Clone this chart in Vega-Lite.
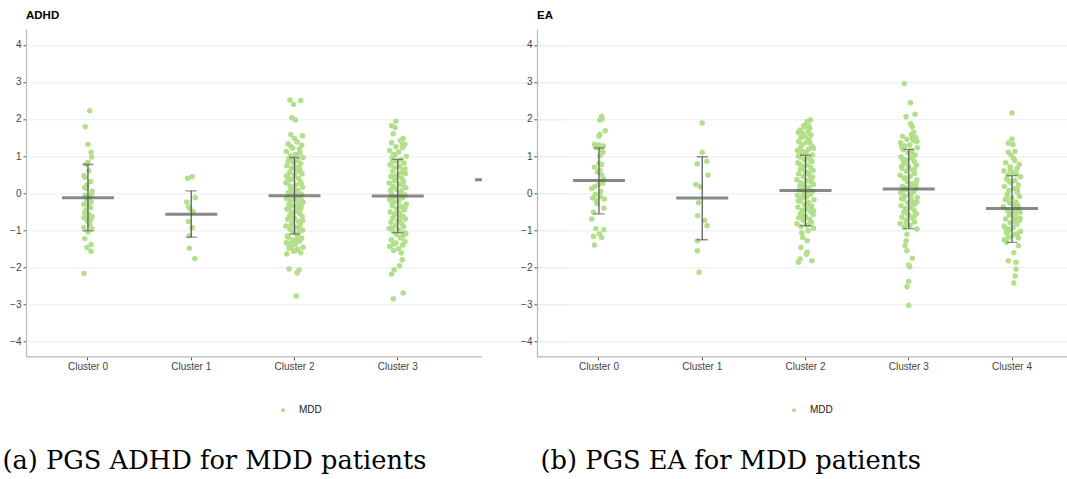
{
  "$schema": "https://vega.github.io/schema/vega-lite/v6.json",
  "background": "white",
  "padding": {"left": 2, "top": 9.3, "right": 0, "bottom": 12},
  "bounds": "flush",
  "spacing": 55,
  "config": {
    "font": "Liberation Sans",
    "view": {"stroke": null},
    "axis": {"labelFont": "Liberation Sans", "labelFontSize": 10, "labelColor": "#444444", "tickColor": "#555555", "tickSize": 3, "labelPadding": 2},
    "legend": {"labelFont": "Liberation Sans", "labelFontSize": 10, "labelColor": "#222222"}
  },
  "datasets": {
    "a": [
      {"c":0,"v":2.22,"j":0.2},{"c":0,"v":1.79,"j":-0.3},{"c":0,"v":1.32,"j":0},{"c":0,"v":1.10,"j":0.35},{"c":0,"v":0.97,"j":0.4},{"c":0,"v":0.83,"j":0},{"c":0,"v":0.78,"j":-0.2},{"c":0,"v":0.60,"j":0.1},{"c":0,"v":0.47,"j":-0.45},{"c":0,"v":0.42,"j":-0.3},{"c":0,"v":0.31,"j":0.3},{"c":0,"v":0.22,"j":-0.1},{"c":0,"v":0.15,"j":-0.35},{"c":0,"v":0.12,"j":-0.15},{"c":0,"v":0.05,"j":0.45},{"c":0,"v":-0.03,"j":0.4},{"c":0,"v":-0.06,"j":-0.3},{"c":0,"v":-0.12,"j":0.2},{"c":0,"v":-0.18,"j":-0.1},{"c":0,"v":-0.24,"j":0.35},{"c":0,"v":-0.30,"j":-0.45},{"c":0,"v":-0.33,"j":0.1},{"c":0,"v":-0.40,"j":0.3},{"c":0,"v":-0.45,"j":-0.2},{"c":0,"v":-0.52,"j":-0.35},{"c":0,"v":-0.58,"j":0.1},{"c":0,"v":-0.63,"j":0.45},{"c":0,"v":-0.66,"j":-0.45},{"c":0,"v":-0.68,"j":-0.2},{"c":0,"v":-0.73,"j":0.3},{"c":0,"v":-0.76,"j":-0.05},{"c":0,"v":-0.85,"j":0.2},{"c":0,"v":-0.93,"j":-0.45},{"c":0,"v":-0.96,"j":0.45},{"c":0,"v":-1.05,"j":0},{"c":0,"v":-1.23,"j":-0.35},{"c":0,"v":-1.39,"j":0.35},{"c":0,"v":-1.47,"j":-0.1},{"c":0,"v":-1.57,"j":0.35},{"c":0,"v":-2.17,"j":-0.45},
      {"c":1,"v":0.44,"j":0.1},{"c":1,"v":0.40,"j":-0.4},{"c":1,"v":-0.12,"j":0.45},{"c":1,"v":-0.24,"j":-0.5},{"c":1,"v":-0.37,"j":-0.3},{"c":1,"v":-0.43,"j":-0.1},{"c":1,"v":-0.50,"j":0.2},{"c":1,"v":-0.77,"j":-0.3},{"c":1,"v":-0.93,"j":0.1},{"c":1,"v":-1.15,"j":-0.2},{"c":1,"v":-1.49,"j":-0.2},{"c":1,"v":-1.77,"j":0.4},
      {"c":2,"v":2.51,"j":-0.5},{"c":2,"v":2.50,"j":0.7},{"c":2,"v":2.39,"j":-0.1},{"c":2,"v":2.03,"j":-0.3},{"c":2,"v":1.97,"j":0.1},{"c":2,"v":1.58,"j":-0.4},{"c":2,"v":1.55,"j":0.9},{"c":2,"v":1.47,"j":0.0},
      {"c":2,"v":1.38,"j":0.3},{"c":2,"v":1.33,"j":-0.7},{"c":2,"v":1.29,"j":0.8},{"c":2,"v":1.21,"j":-0.2},{"c":2,"v":1.19,"j":0.55},{"c":2,"v":1.12,"j":-0.9},{"c":2,"v":1.04,"j":0.1},{"c":2,"v":1.01,"j":-0.45},{"c":2,"v":0.96,"j":0.95},{"c":2,"v":0.93,"j":-0.6},{"c":2,"v":0.87,"j":0.35},{"c":2,"v":0.82,"j":-0.1},{"c":2,"v":0.80,"j":0.7},{"c":2,"v":0.74,"j":-0.85},{"c":2,"v":0.69,"j":0.2},{"c":2,"v":0.67,"j":-0.35},{"c":2,"v":0.61,"j":0.6},{"c":2,"v":0.55,"j":-0.55},{"c":2,"v":0.52,"j":0.85},{"c":2,"v":0.49,"j":0.0},{"c":2,"v":0.43,"j":-0.75},{"c":2,"v":0.40,"j":0.45},{"c":2,"v":0.37,"j":-0.25},{"c":2,"v":0.31,"j":0.65},{"c":2,"v":0.28,"j":-0.95},{"c":2,"v":0.22,"j":0.15},{"c":2,"v":0.19,"j":-0.5},{"c":2,"v":0.16,"j":0.9},{"c":2,"v":0.11,"j":-0.15},{"c":2,"v":0.07,"j":0.4},
      {"c":2,"v":0.05,"j":0.3},{"c":2,"v":0.01,"j":-0.7},{"c":2,"v":-0.03,"j":0.8},{"c":2,"v":-0.06,"j":-0.2},{"c":2,"v":-0.09,"j":0.55},{"c":2,"v":-0.14,"j":-0.9},{"c":2,"v":-0.17,"j":0.1},{"c":2,"v":-0.21,"j":-0.45},{"c":2,"v":-0.24,"j":0.95},{"c":2,"v":-0.29,"j":-0.6},{"c":2,"v":-0.33,"j":0.35},{"c":2,"v":-0.35,"j":-0.1},{"c":2,"v":-0.41,"j":0.7},{"c":2,"v":-0.44,"j":-0.85},{"c":2,"v":-0.47,"j":0.2},{"c":2,"v":-0.52,"j":-0.35},{"c":2,"v":-0.55,"j":0.6},{"c":2,"v":-0.61,"j":-0.55},{"c":2,"v":-0.63,"j":0.85},{"c":2,"v":-0.68,"j":0.0},{"c":2,"v":-0.71,"j":-0.75},{"c":2,"v":-0.77,"j":0.45},{"c":2,"v":-0.80,"j":-0.25},{"c":2,"v":-0.84,"j":0.65},{"c":2,"v":-0.89,"j":-0.95},{"c":2,"v":-0.92,"j":0.15},{"c":2,"v":-0.97,"j":-0.5},{"c":2,"v":-1.00,"j":0.9},{"c":2,"v":-1.05,"j":-0.15},{"c":2,"v":-1.09,"j":0.4},
      {"c":2,"v":-1.13,"j":0.3},{"c":2,"v":-1.19,"j":-0.7},{"c":2,"v":-1.22,"j":0.8},{"c":2,"v":-1.27,"j":-0.2},{"c":2,"v":-1.30,"j":0.55},{"c":2,"v":-1.34,"j":-0.9},{"c":2,"v":-1.38,"j":0.1},{"c":2,"v":-1.41,"j":-0.45},{"c":2,"v":-1.46,"j":0.95},{"c":2,"v":-1.49,"j":-0.6},{"c":2,"v":-1.52,"j":0.35},{"c":2,"v":-1.57,"j":-0.1},{"c":2,"v":-1.61,"j":0.7},{"c":2,"v":-1.64,"j":-0.85},
      {"c":2,"v":0.91,"j":-0.3},{"c":2,"v":0.58,"j":0.5},{"c":2,"v":0.34,"j":-0.65},{"c":2,"v":0.25,"j":0.75},{"c":2,"v":0.13,"j":-0.4},{"c":2,"v":-0.01,"j":0.2},{"c":2,"v":-0.12,"j":-0.8},{"c":2,"v":-0.26,"j":0.5},{"c":2,"v":-0.38,"j":-0.6},{"c":2,"v":-0.50,"j":0.3},{"c":2,"v":-0.58,"j":-0.2},{"c":2,"v":-0.74,"j":0.9},{"c":2,"v":-0.87,"j":-0.4},{"c":2,"v":-1.02,"j":0.6},{"c":2,"v":-1.16,"j":-0.8},{"c":2,"v":-1.25,"j":0.25},{"c":2,"v":-1.44,"j":-0.3},{"c":2,"v":0.71,"j":0.5},{"c":2,"v":0.46,"j":-0.9},{"c":2,"v":-0.19,"j":0.75},{"c":2,"v":1.26,"j":-0.4},{"c":2,"v":1.08,"j":0.6},{"c":2,"v":0.85,"j":-0.7},{"c":2,"v":0.64,"j":0.1},{"c":2,"v":-0.66,"j":-0.3},{"c":2,"v":-0.94,"j":0.5},{"c":2,"v":-1.36,"j":-0.6},{"c":2,"v":-1.55,"j":0.2},{"c":2,"v":0.03,"j":-0.4},{"c":2,"v":-0.31,"j":0.8},
      {"c":2,"v":-2.05,"j":-0.6},{"c":2,"v":-2.08,"j":0.5},{"c":2,"v":-2.16,"j":0.3},{"c":2,"v":-2.78,"j":0.2},
      {"c":3,"v":1.94,"j":-0.2},{"c":3,"v":1.82,"j":-0.7},{"c":3,"v":1.77,"j":-0.3},{"c":3,"v":1.60,"j":-0.5},{"c":3,"v":1.47,"j":0.6},
      {"c":3,"v":1.42,"j":0.3},{"c":3,"v":1.36,"j":-0.7},{"c":3,"v":1.32,"j":0.8},{"c":3,"v":1.25,"j":-0.2},{"c":3,"v":1.22,"j":0.55},{"c":3,"v":1.15,"j":-0.9},{"c":3,"v":1.11,"j":0.1},{"c":3,"v":1.05,"j":-0.45},{"c":3,"v":0.99,"j":0.95},{"c":3,"v":0.95,"j":-0.6},{"c":3,"v":0.90,"j":0.35},{"c":3,"v":0.86,"j":-0.1},{"c":3,"v":0.81,"j":0.7},{"c":3,"v":0.76,"j":-0.85},{"c":3,"v":0.72,"j":0.2},{"c":3,"v":0.68,"j":-0.35},{"c":3,"v":0.62,"j":0.6},{"c":3,"v":0.59,"j":-0.55},{"c":3,"v":0.53,"j":0.85},{"c":3,"v":0.49,"j":0.0},{"c":3,"v":0.45,"j":-0.75},{"c":3,"v":0.40,"j":0.45},{"c":3,"v":0.36,"j":-0.25},{"c":3,"v":0.31,"j":0.65},{"c":3,"v":0.27,"j":-0.95},{"c":3,"v":0.24,"j":0.15},{"c":3,"v":0.18,"j":-0.5},{"c":3,"v":0.14,"j":0.9},{"c":3,"v":0.10,"j":-0.15},{"c":3,"v":0.06,"j":0.4},
      {"c":3,"v":0.02,"j":0.3},{"c":3,"v":-0.02,"j":-0.7},{"c":3,"v":-0.05,"j":0.8},{"c":3,"v":-0.10,"j":-0.2},{"c":3,"v":-0.13,"j":0.55},{"c":3,"v":-0.18,"j":-0.9},{"c":3,"v":-0.22,"j":0.1},{"c":3,"v":-0.25,"j":-0.45},{"c":3,"v":-0.30,"j":0.95},{"c":3,"v":-0.34,"j":-0.6},{"c":3,"v":-0.37,"j":0.35},{"c":3,"v":-0.42,"j":-0.1},{"c":3,"v":-0.46,"j":0.7},{"c":3,"v":-0.51,"j":-0.85},{"c":3,"v":-0.54,"j":0.2},{"c":3,"v":-0.58,"j":-0.35},{"c":3,"v":-0.63,"j":0.6},{"c":3,"v":-0.67,"j":-0.55},{"c":3,"v":-0.70,"j":0.85},{"c":3,"v":-0.75,"j":0.0},{"c":3,"v":-0.79,"j":-0.75},{"c":3,"v":-0.83,"j":0.45},{"c":3,"v":-0.88,"j":-0.25},{"c":3,"v":-0.91,"j":0.65},{"c":3,"v":-0.96,"j":-0.95},{"c":3,"v":-1.00,"j":0.15},{"c":3,"v":-1.04,"j":-0.5},{"c":3,"v":-1.09,"j":0.9},{"c":3,"v":-1.12,"j":-0.15},{"c":3,"v":-1.18,"j":0.4},
      {"c":3,"v":-1.21,"j":0.3},{"c":3,"v":-1.26,"j":-0.7},{"c":3,"v":-1.31,"j":0.8},{"c":3,"v":-1.35,"j":-0.2},{"c":3,"v":-1.40,"j":0.55},{"c":3,"v":-1.44,"j":-0.9},{"c":3,"v":-1.50,"j":0.1},{"c":3,"v":-1.55,"j":-0.45},{"c":3,"v":-1.62,"j":0.4},
      {"c":3,"v":1.30,"j":0.5},{"c":3,"v":1.02,"j":-0.3},{"c":3,"v":0.84,"j":-0.6},{"c":3,"v":0.65,"j":0.8},{"c":3,"v":0.44,"j":-0.4},{"c":3,"v":0.21,"j":0.6},{"c":3,"v":0.08,"j":-0.8},{"c":3,"v":-0.08,"j":0.3},{"c":3,"v":-0.28,"j":-0.6},{"c":3,"v":-0.40,"j":0.8},{"c":3,"v":-0.56,"j":-0.3},{"c":3,"v":-0.73,"j":0.2},{"c":3,"v":-0.94,"j":-0.7},{"c":3,"v":-1.15,"j":0.6},{"c":3,"v":-1.38,"j":-0.5},{"c":3,"v":0.55,"j":0.4},{"c":3,"v":-0.16,"j":-0.6},{"c":3,"v":-0.61,"j":0.3},{"c":3,"v":0.33,"j":-0.4},{"c":3,"v":-1.07,"j":0.7},
      {"c":3,"v":-1.80,"j":0.5},{"c":3,"v":-1.96,"j":0.2},{"c":3,"v":-2.08,"j":-0.4},{"c":3,"v":-2.19,"j":-0.7},{"c":3,"v":-2.70,"j":0.6},{"c":3,"v":-2.85,"j":-0.5}
    ],
    "as": [
      {"c":0,"m":-0.13,"lo":-1.02,"hi":0.77},{"c":1,"m":-0.57,"lo":-1.19,"hi":0.06},{"c":2,"m":-0.07,"lo":-1.11,"hi":0.96},{"c":3,"m":-0.08,"lo":-1.07,"hi":0.91},{"c":4,"m":0.36,"lo":null,"hi":null}
    ],
    "b": [
      {"c":0,"v":2.07,"j":0.3},{"c":0,"v":2.00,"j":0.35},{"c":0,"v":1.97,"j":0.1},{"c":0,"v":1.68,"j":0.7},{"c":0,"v":1.59,"j":0.1},{"c":0,"v":1.53,"j":0.0},{"c":0,"v":1.32,"j":-0.5},{"c":0,"v":1.30,"j":0.0},{"c":0,"v":1.27,"j":0.5},{"c":0,"v":1.25,"j":0.2},{"c":0,"v":1.18,"j":0.3},{"c":0,"v":1.10,"j":0.45},{"c":0,"v":1.00,"j":0.1},{"c":0,"v":0.81,"j":0.0},{"c":0,"v":0.77,"j":0.3},{"c":0,"v":0.70,"j":-0.5},{"c":0,"v":0.56,"j":-0.15},{"c":0,"v":0.49,"j":0.3},{"c":0,"v":0.38,"j":0.55},{"c":0,"v":0.31,"j":0.3},{"c":0,"v":0.27,"j":0.45},{"c":0,"v":0.17,"j":-0.5},{"c":0,"v":0.12,"j":-0.8},{"c":0,"v":0.05,"j":0.2},{"c":0,"v":-0.10,"j":0.15},{"c":0,"v":-0.16,"j":0.6},{"c":0,"v":-0.20,"j":-0.3},{"c":0,"v":-0.29,"j":-0.2},{"c":0,"v":-0.41,"j":0.55},{"c":0,"v":-0.52,"j":-0.6},{"c":0,"v":-0.70,"j":-0.8},{"c":0,"v":-0.96,"j":-0.35},{"c":0,"v":-0.99,"j":0.55},{"c":0,"v":-1.10,"j":0.05},{"c":0,"v":-1.17,"j":-0.6},{"c":0,"v":-1.20,"j":0.3},{"c":0,"v":-1.40,"j":-0.5},{"c":0,"v":1.22,"j":-0.3},{"c":0,"v":0.62,"j":0.1},{"c":0,"v":-0.03,"j":-0.4},{"c":0,"v":-0.13,"j":-0.7},{"c":0,"v":0.23,"j":0.0},
      {"c":1,"v":1.89,"j":0.0},{"c":1,"v":1.10,"j":0.0},{"c":1,"v":0.86,"j":0.5},{"c":1,"v":0.79,"j":-0.55},{"c":1,"v":0.49,"j":0.65},{"c":1,"v":0.23,"j":-0.7},{"c":1,"v":0.17,"j":-0.25},{"c":1,"v":-0.26,"j":-0.4},{"c":1,"v":-0.61,"j":-0.5},{"c":1,"v":-0.74,"j":0.25},{"c":1,"v":-0.88,"j":0.55},{"c":1,"v":-1.29,"j":-0.55},{"c":1,"v":-1.56,"j":-0.55},{"c":1,"v":-2.14,"j":-0.35},
      {"c":2,"v":1.97,"j":0.55},{"c":2,"v":1.93,"j":0.2},{"c":2,"v":1.87,"j":0.1},{"c":2,"v":1.82,"j":-0.2},{"c":2,"v":1.78,"j":-0.1},{"c":2,"v":1.74,"j":0.45},{"c":2,"v":1.70,"j":-0.6},{"c":2,"v":1.66,"j":0.3},{"c":2,"v":1.61,"j":-0.3},{"c":2,"v":1.57,"j":0.6},{"c":2,"v":1.52,"j":0.0},{"c":2,"v":1.49,"j":-0.5},{"c":2,"v":1.44,"j":0.4},{"c":2,"v":1.40,"j":-0.75},{"c":2,"v":1.37,"j":0.15},{"c":2,"v":1.31,"j":-0.35},{"c":2,"v":1.27,"j":0.7},{"c":2,"v":1.24,"j":-0.55},{"c":2,"v":1.18,"j":0.35},{"c":2,"v":1.15,"j":-0.9},{"c":2,"v":1.10,"j":0.1},{"c":2,"v":1.06,"j":-0.45},{"c":2,"v":1.03,"j":0.8},{"c":2,"v":0.97,"j":-0.6},{"c":2,"v":0.94,"j":0.35},{"c":2,"v":0.90,"j":-0.1},{"c":2,"v":0.85,"j":0.7},{"c":2,"v":0.82,"j":-0.85},{"c":2,"v":0.76,"j":0.2},{"c":2,"v":0.73,"j":-0.35},{"c":2,"v":0.69,"j":0.6},{"c":2,"v":0.64,"j":-0.55},{"c":2,"v":0.61,"j":0.85},{"c":2,"v":0.57,"j":0.0},{"c":2,"v":0.52,"j":-0.75},{"c":2,"v":0.49,"j":0.45},{"c":2,"v":0.45,"j":-0.25},{"c":2,"v":0.40,"j":0.65},{"c":2,"v":0.36,"j":-0.95},{"c":2,"v":0.33,"j":0.15},{"c":2,"v":0.28,"j":-0.5},{"c":2,"v":0.24,"j":0.9},{"c":2,"v":0.21,"j":-0.15},{"c":2,"v":0.16,"j":0.4},
      {"c":2,"v":0.13,"j":0.3},{"c":2,"v":0.09,"j":-0.7},{"c":2,"v":0.05,"j":0.8},{"c":2,"v":0.02,"j":-0.2},{"c":2,"v":-0.03,"j":0.55},{"c":2,"v":-0.06,"j":-0.9},{"c":2,"v":-0.11,"j":0.1},{"c":2,"v":-0.14,"j":-0.45},{"c":2,"v":-0.18,"j":0.95},{"c":2,"v":-0.23,"j":-0.6},{"c":2,"v":-0.26,"j":0.35},{"c":2,"v":-0.31,"j":-0.1},{"c":2,"v":-0.35,"j":0.7},{"c":2,"v":-0.38,"j":-0.85},{"c":2,"v":-0.43,"j":0.2},{"c":2,"v":-0.46,"j":-0.35},{"c":2,"v":-0.51,"j":0.6},{"c":2,"v":-0.55,"j":-0.55},{"c":2,"v":-0.58,"j":0.85},{"c":2,"v":-0.63,"j":0.0},{"c":2,"v":-0.67,"j":-0.75},{"c":2,"v":-0.71,"j":0.45},{"c":2,"v":-0.74,"j":-0.25},{"c":2,"v":-0.79,"j":0.65},{"c":2,"v":-0.83,"j":-0.95},{"c":2,"v":-0.87,"j":0.15},{"c":2,"v":-0.91,"j":-0.5},{"c":2,"v":-0.95,"j":0.9},
      {"c":2,"v":1.80,"j":0.4},{"c":2,"v":1.63,"j":-0.8},{"c":2,"v":1.35,"j":0.5},{"c":2,"v":1.12,"j":-0.3},{"c":2,"v":0.88,"j":0.6},{"c":2,"v":0.67,"j":-0.4},{"c":2,"v":0.43,"j":0.8},{"c":2,"v":0.19,"j":-0.6},{"c":2,"v":-0.01,"j":0.3},{"c":2,"v":-0.21,"j":-0.8},{"c":2,"v":-0.40,"j":0.5},{"c":2,"v":-0.60,"j":-0.3},{"c":2,"v":-0.85,"j":0.6},{"c":2,"v":1.55,"j":-0.2},{"c":2,"v":1.21,"j":0.9},{"c":2,"v":0.79,"j":-0.7},{"c":2,"v":0.31,"j":0.6},{"c":2,"v":-0.09,"j":-0.4},{"c":2,"v":-0.48,"j":0.9},{"c":2,"v":-0.69,"j":-0.2},{"c":2,"v":0.55,"j":0.3},{"c":2,"v":1.00,"j":-0.8},{"c":2,"v":-0.28,"j":0.2},{"c":2,"v":0.12,"j":-0.3},
      {"c":2,"v":-1.02,"j":0.3},{"c":2,"v":-1.08,"j":-0.4},{"c":2,"v":-1.20,"j":-0.3},{"c":2,"v":-1.29,"j":0.2},{"c":2,"v":-1.47,"j":-0.5},{"c":2,"v":-1.60,"j":0.2},{"c":2,"v":-1.65,"j":0.1},{"c":2,"v":-1.78,"j":-0.6},{"c":2,"v":-1.83,"j":0.7},{"c":2,"v":-1.87,"j":-0.8},
      {"c":3,"v":2.96,"j":-0.5},{"c":3,"v":2.44,"j":0.2},{"c":3,"v":2.13,"j":0.7},{"c":3,"v":2.06,"j":-0.3},{"c":3,"v":1.87,"j":0.2},{"c":3,"v":1.79,"j":0.4},{"c":3,"v":1.64,"j":0.55},
      {"c":3,"v":1.58,"j":0.3},{"c":3,"v":1.53,"j":-0.7},{"c":3,"v":1.50,"j":0.8},{"c":3,"v":1.45,"j":-0.2},{"c":3,"v":1.41,"j":0.55},{"c":3,"v":1.36,"j":-0.9},{"c":3,"v":1.30,"j":0.1},{"c":3,"v":1.27,"j":-0.45},{"c":3,"v":1.22,"j":0.95},{"c":3,"v":1.17,"j":-0.6},{"c":3,"v":1.12,"j":0.35},{"c":3,"v":1.09,"j":-0.1},{"c":3,"v":1.03,"j":0.7},{"c":3,"v":0.98,"j":-0.85},{"c":3,"v":0.95,"j":0.2},{"c":3,"v":0.89,"j":-0.35},{"c":3,"v":0.86,"j":0.6},{"c":3,"v":0.80,"j":-0.55},{"c":3,"v":0.76,"j":0.85},{"c":3,"v":0.71,"j":0.0},{"c":3,"v":0.67,"j":-0.75},{"c":3,"v":0.62,"j":0.45},{"c":3,"v":0.59,"j":-0.25},{"c":3,"v":0.53,"j":0.65},{"c":3,"v":0.48,"j":-0.95},{"c":3,"v":0.45,"j":0.15},{"c":3,"v":0.39,"j":-0.5},{"c":3,"v":0.36,"j":0.9},{"c":3,"v":0.31,"j":-0.15},{"c":3,"v":0.26,"j":0.4},
      {"c":3,"v":0.22,"j":0.3},{"c":3,"v":0.18,"j":-0.7},{"c":3,"v":0.13,"j":0.8},{"c":3,"v":0.10,"j":-0.2},{"c":3,"v":0.04,"j":0.55},{"c":3,"v":0.01,"j":-0.9},{"c":3,"v":-0.04,"j":0.1},{"c":3,"v":-0.08,"j":-0.45},{"c":3,"v":-0.12,"j":0.95},{"c":3,"v":-0.17,"j":-0.6},{"c":3,"v":-0.21,"j":0.35},{"c":3,"v":-0.26,"j":-0.1},{"c":3,"v":-0.29,"j":0.7},{"c":3,"v":-0.34,"j":-0.85},{"c":3,"v":-0.39,"j":0.2},{"c":3,"v":-0.42,"j":-0.35},{"c":3,"v":-0.47,"j":0.6},{"c":3,"v":-0.51,"j":-0.55},{"c":3,"v":-0.56,"j":0.85},{"c":3,"v":-0.60,"j":0.0},{"c":3,"v":-0.65,"j":-0.75},{"c":3,"v":-0.69,"j":0.45},{"c":3,"v":-0.73,"j":-0.25},{"c":3,"v":-0.78,"j":0.65},{"c":3,"v":-0.82,"j":-0.95},{"c":3,"v":-0.87,"j":0.15},{"c":3,"v":-0.92,"j":-0.5},{"c":3,"v":-0.97,"j":0.9},
      {"c":3,"v":1.48,"j":0.4},{"c":3,"v":1.25,"j":-0.8},{"c":3,"v":1.00,"j":0.5},{"c":3,"v":0.83,"j":-0.3},{"c":3,"v":0.64,"j":0.6},{"c":3,"v":0.41,"j":-0.4},{"c":3,"v":0.24,"j":0.8},{"c":3,"v":0.07,"j":-0.6},{"c":3,"v":-0.02,"j":0.3},{"c":3,"v":-0.15,"j":-0.8},{"c":3,"v":-0.32,"j":0.5},{"c":3,"v":-0.45,"j":-0.3},{"c":3,"v":-0.63,"j":0.6},{"c":3,"v":-0.85,"j":-0.2},{"c":3,"v":1.39,"j":0.9},{"c":3,"v":0.92,"j":-0.7},{"c":3,"v":0.56,"j":0.6},{"c":3,"v":0.15,"j":-0.4},{"c":3,"v":-0.24,"j":0.9},{"c":3,"v":-0.54,"j":-0.2},{"c":3,"v":1.14,"j":0.3},{"c":3,"v":0.72,"j":-0.8},{"c":3,"v":-0.09,"j":0.2},{"c":3,"v":-0.76,"j":-0.3},
      {"c":3,"v":-1.11,"j":-0.2},{"c":3,"v":-1.29,"j":-0.3},{"c":3,"v":-1.42,"j":-0.4},{"c":3,"v":-1.56,"j":-0.2},{"c":3,"v":-1.76,"j":0.4},{"c":3,"v":-1.94,"j":0.0},{"c":3,"v":-1.99,"j":0.1},{"c":3,"v":-2.39,"j":0.0},{"c":3,"v":-2.53,"j":-0.2},{"c":3,"v":-3.03,"j":0.0},
      {"c":4,"v":2.16,"j":0.0},{"c":4,"v":1.46,"j":0.0},{"c":4,"v":1.35,"j":-0.4},{"c":4,"v":1.31,"j":0.1},{"c":4,"v":1.12,"j":0.35},{"c":4,"v":1.10,"j":-0.4},{"c":4,"v":1.02,"j":-0.1},{"c":4,"v":0.93,"j":0.2},
      {"c":4,"v":0.88,"j":0.3},{"c":4,"v":0.82,"j":-0.7},{"c":4,"v":0.77,"j":0.8},{"c":4,"v":0.71,"j":-0.2},{"c":4,"v":0.66,"j":0.55},{"c":4,"v":0.60,"j":-0.9},{"c":4,"v":0.55,"j":0.1},{"c":4,"v":0.49,"j":-0.45},{"c":4,"v":0.44,"j":0.95},{"c":4,"v":0.38,"j":-0.6},{"c":4,"v":0.34,"j":0.35},{"c":4,"v":0.28,"j":-0.1},{"c":4,"v":0.22,"j":0.7},{"c":4,"v":0.18,"j":-0.85},{"c":4,"v":0.12,"j":0.2},{"c":4,"v":0.07,"j":-0.35},{"c":4,"v":0.01,"j":0.6},{"c":4,"v":-0.04,"j":-0.55},{"c":4,"v":-0.09,"j":0.85},{"c":4,"v":-0.13,"j":0.0},{"c":4,"v":-0.18,"j":-0.75},{"c":4,"v":-0.24,"j":0.45},{"c":4,"v":-0.27,"j":-0.25},{"c":4,"v":-0.33,"j":0.65},{"c":4,"v":-0.37,"j":-0.95},{"c":4,"v":-0.42,"j":0.15},{"c":4,"v":-0.47,"j":-0.5},{"c":4,"v":-0.52,"j":0.9},{"c":4,"v":-0.56,"j":-0.15},{"c":4,"v":-0.61,"j":0.4},{"c":4,"v":-0.65,"j":0.3},{"c":4,"v":-0.70,"j":-0.7},{"c":4,"v":-0.74,"j":0.8},{"c":4,"v":-0.80,"j":-0.2},{"c":4,"v":-0.84,"j":0.55},{"c":4,"v":-0.89,"j":-0.9},{"c":4,"v":-0.93,"j":0.1},{"c":4,"v":-0.98,"j":-0.45},{"c":4,"v":-1.03,"j":0.95},{"c":4,"v":-1.07,"j":-0.6},{"c":4,"v":-1.12,"j":0.35},{"c":4,"v":-1.17,"j":-0.1},{"c":4,"v":-1.21,"j":0.7},{"c":4,"v":-1.26,"j":-0.85},
      {"c":4,"v":0.52,"j":0.5},{"c":4,"v":0.31,"j":-0.3},{"c":4,"v":0.09,"j":0.6},{"c":4,"v":-0.16,"j":-0.6},{"c":4,"v":-0.44,"j":0.7},{"c":4,"v":-0.59,"j":-0.3},{"c":4,"v":-0.77,"j":0.3},{"c":4,"v":-0.95,"j":-0.7},{"c":4,"v":-1.10,"j":0.6},{"c":4,"v":-1.19,"j":-0.4},{"c":4,"v":0.63,"j":-0.2},{"c":4,"v":-0.30,"j":0.2},{"c":4,"v":-0.68,"j":0.9},{"c":4,"v":-1.00,"j":-0.2},{"c":4,"v":-0.50,"j":0.4},
      {"c":4,"v":-1.33,"j":-0.6},{"c":4,"v":-1.42,"j":0.7},{"c":4,"v":-1.61,"j":0.2},{"c":4,"v":-1.83,"j":-0.4},{"c":4,"v":-1.87,"j":0.45},{"c":4,"v":-2.05,"j":0.45},{"c":4,"v":-2.24,"j":0.35},{"c":4,"v":-2.43,"j":0.2}
    ],
    "bs": [
      {"c":0,"m":0.34,"lo":-0.56,"hi":1.22},{"c":1,"m":-0.135,"lo":-1.26,"hi":0.98},{"c":2,"m":0.07,"lo":-0.88,"hi":1.02},{"c":3,"m":0.11,"lo":-0.96,"hi":1.18},{"c":4,"m":-0.42,"lo":-1.33,"hi":0.47}
    ]
  },
  "resolve": {"scale": {"x": "independent", "y": "independent", "color": "independent", "xOffset": "independent"}, "legend": {"color": "independent"}},
  "hconcat": [
    {
      "width": 456,
      "height": 327.5,
      "title": {"text": "ADHD", "anchor": "start", "frame": "group", "fontSize": 11.5, "fontWeight": "bold", "color": "#000000", "baseline": "alphabetic", "offset": -1.2},
      "layer": [
        {
          "data": {"values": [{}]},
          "mark": {"type": "rule", "color": "#b8b8b8", "strokeWidth": 1.2},
          "encoding": {"y": {"datum": -4.42, "type": "quantitative", "scale": {"domain": [-4.42, 4.42], "nice": false, "zero": false}}}
        },
        {
          "data": {"name": "a"},
          "mark": {"type": "circle", "size": 30, "opacity": 1, "clip": true},
          "encoding": {
            "x": {"field": "c", "type": "ordinal",
              "scale": {"domain": [0, 1, 2, 3, 4], "range": [0, 537], "paddingInner": 0, "paddingOuter": 0.1},
              "axis": {"values": [0, 1, 2, 3], "labelExpr": "'Cluster ' + datum.value", "labelAngle": 0, "domain": false, "ticks": true, "grid": false,
                "title": "(a) PGS ADHD for MDD patients", "titleFont": "DejaVu Serif", "titleFontSize": 25.7, "titleFontWeight": "normal", "titleColor": "#000000",
                "titleAlign": "left", "titleAnchor": "start", "titleBaseline": "alphabetic", "titleX": -24, "titleY": 112}},
            "xOffset": {"field": "j", "type": "quantitative", "scale": {"domain": [-1, 1], "range": [42.6, 60.6]}},
            "y": {"field": "v", "type": "quantitative",
              "scale": {"domain": [-4.42, 4.42], "nice": false, "zero": false},
              "axis": {"values": [-4, -3, -2, -1, 0, 1, 2, 3, 4], "title": null, "grid": true, "gridColor": "#ebebeb", "gridWidth": 1, "domainColor": "#b8b8b8", "domainWidth": 1.2}},
            "color": {"datum": "MDD", "type": "nominal", "scale": {"range": ["#b2df8a"]},
              "legend": {"title": null, "orient": "none", "legendX": 252, "legendY": 376, "symbolType": "circle", "symbolSize": 16, "symbolStrokeWidth": 0, "labelOffset": 11, "padding": 0}}
          }
        },
        {
          "data": {"name": "as"},
          "transform": [{"filter": "isValid(datum.lo)"}],
          "mark": {"type": "rule", "color": "#5e5e5e", "strokeWidth": 1.3, "clip": true},
          "encoding": {
            "x": {"field": "c", "type": "ordinal"},
            "y": {"field": "lo", "type": "quantitative"},
            "y2": {"field": "hi"}
          }
        },
        {
          "data": {"name": "as"},
          "transform": [{"filter": "isValid(datum.lo)"}],
          "mark": {"type": "tick", "color": "#5e5e5e", "thickness": 1.3, "size": 11, "clip": true},
          "encoding": {"x": {"field": "c", "type": "ordinal"}, "y": {"field": "lo", "type": "quantitative"}}
        },
        {
          "data": {"name": "as"},
          "transform": [{"filter": "isValid(datum.hi)"}],
          "mark": {"type": "tick", "color": "#5e5e5e", "thickness": 1.3, "size": 11, "clip": true},
          "encoding": {"x": {"field": "c", "type": "ordinal"}, "y": {"field": "hi", "type": "quantitative"}}
        },
        {
          "data": {"name": "as"},
          "mark": {"type": "tick", "color": "#555555", "thickness": 3, "size": 52, "clip": true},
          "encoding": {"x": {"field": "c", "type": "ordinal"}, "y": {"field": "m", "type": "quantitative"}}
        }
      ]
    },
    {
      "width": 537,
      "height": 327.5,
      "title": {"text": "EA", "anchor": "start", "frame": "group", "fontSize": 11.5, "fontWeight": "bold", "color": "#000000", "baseline": "alphabetic", "offset": -1.2},
      "layer": [
        {
          "data": {"values": [{}]},
          "mark": {"type": "rule", "color": "#b8b8b8", "strokeWidth": 1.2},
          "encoding": {"y": {"datum": -4.42, "type": "quantitative", "scale": {"domain": [-4.42, 4.42], "nice": false, "zero": false}}}
        },
        {
          "data": {"name": "b"},
          "mark": {"type": "circle", "size": 30, "opacity": 1, "clip": true},
          "encoding": {
            "x": {"field": "c", "type": "ordinal",
              "scale": {"domain": [0, 1, 2, 3, 4], "range": [0, 537], "paddingInner": 0, "paddingOuter": 0.1},
              "axis": {"values": [0, 1, 2, 3, 4], "labelExpr": "'Cluster ' + datum.value", "labelAngle": 0, "domain": false, "ticks": true, "grid": false,
                "title": "(b) PGS EA for MDD patients", "titleFont": "DejaVu Serif", "titleFontSize": 25.7, "titleFontWeight": "normal", "titleColor": "#000000",
                "titleAlign": "left", "titleAnchor": "start", "titleBaseline": "alphabetic", "titleX": 3, "titleY": 112}},
            "xOffset": {"field": "j", "type": "quantitative", "scale": {"domain": [-1, 1], "range": [42.6, 60.6]}},
            "y": {"field": "v", "type": "quantitative",
              "scale": {"domain": [-4.42, 4.42], "nice": false, "zero": false},
              "axis": {"values": [-4, -3, -2, -1, 0, 1, 2, 3, 4], "title": null, "grid": true, "gridColor": "#ebebeb", "gridWidth": 1, "domainColor": "#b8b8b8", "domainWidth": 1.2}},
            "color": {"datum": "MDD", "type": "nominal", "scale": {"range": ["#b2df8a"]},
              "legend": {"title": null, "orient": "none", "legendX": 252, "legendY": 376, "symbolType": "circle", "symbolSize": 16, "symbolStrokeWidth": 0, "labelOffset": 11, "padding": 0}}
          }
        },
        {
          "data": {"name": "bs"},
          "mark": {"type": "rule", "color": "#5e5e5e", "strokeWidth": 1.3, "clip": true},
          "encoding": {
            "x": {"field": "c", "type": "ordinal"},
            "y": {"field": "lo", "type": "quantitative"},
            "y2": {"field": "hi"}
          }
        },
        {
          "data": {"name": "bs"},
          "mark": {"type": "tick", "color": "#5e5e5e", "thickness": 1.3, "size": 11, "clip": true},
          "encoding": {"x": {"field": "c", "type": "ordinal"}, "y": {"field": "lo", "type": "quantitative"}}
        },
        {
          "data": {"name": "bs"},
          "mark": {"type": "tick", "color": "#5e5e5e", "thickness": 1.3, "size": 11, "clip": true},
          "encoding": {"x": {"field": "c", "type": "ordinal"}, "y": {"field": "hi", "type": "quantitative"}}
        },
        {
          "data": {"name": "bs"},
          "mark": {"type": "tick", "color": "#555555", "thickness": 3, "size": 52, "clip": true},
          "encoding": {"x": {"field": "c", "type": "ordinal"}, "y": {"field": "m", "type": "quantitative"}}
        }
      ]
    }
  ]
}
